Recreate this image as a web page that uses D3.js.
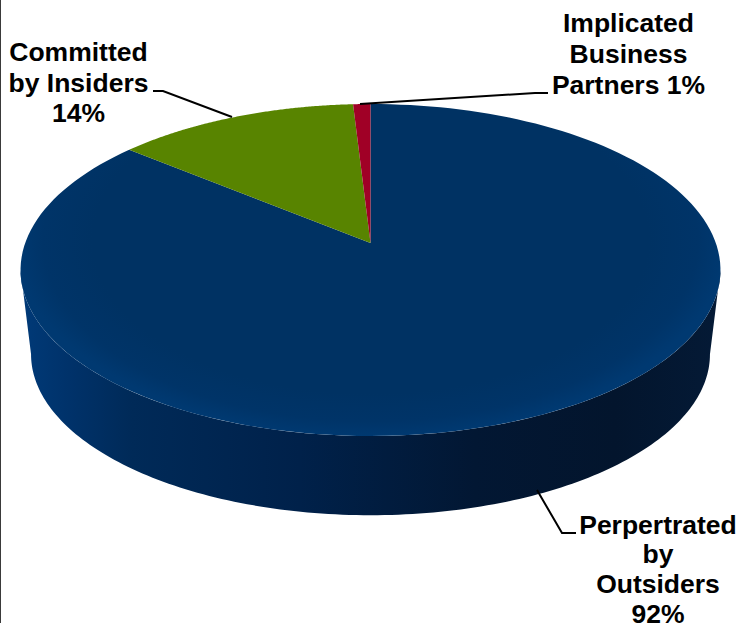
<!DOCTYPE html>
<html><head><meta charset="utf-8">
<script src="https://cdn.jsdelivr.net/npm/d3@7"></script>
<style>html,body{margin:0;padding:0;background:#fff}svg{display:block}text{font-family:"Liberation Sans",Arial,sans-serif;font-weight:700;font-size:26.5px;fill:#000;text-anchor:middle}</style>
</head><body><svg id="c" width="739" height="623"></svg>
<script>
const categories = ["Perpertrated by Outsiders", "Committed by Insiders", "Implicated Business Partners"];
const values = [92, 14, 1];
const sliceColors = ["url(#blueTop)", "#588400", "#a00026"];
const labelLines = [["Perpertrated","by","Outsiders","92%"],["Committed","by Insiders","14%"],["Implicated","Business","Partners 1%"]];
const labelX = [658, 78.5, 628.5];
const labelY = [[534,563,593,623],[61,92,122],[32,63,94]];
const leaders = [[[537,490],[562,533],[576,533]],[[232,117],[163,91],[153,91]],[[360,104],[535,93],[548,93]]];
const sideStops = [[0,"#003a78"],[0.07,"#00326a"],[0.16,"#002a58"],[0.4,"#00214a"],[0.65,"#021733"],[0.85,"#03152d"],[1,"#041a36"]];
const topStops = [[0,"#003263"],[0.78,"#003263"],[0.92,"#003468"],[1,"#003971"]];

const svg = d3.select("#c");
const defs = svg.append("defs");
const grad = defs.append("linearGradient").attr("id","side").attr("gradientUnits","userSpaceOnUse").attr("x1",20).attr("x2",720).attr("y1",0).attr("y2",0);
sideStops.forEach(s=>grad.append("stop").attr("offset",s[0]).attr("stop-color",s[1]));
const tg = defs.append("radialGradient").attr("id","blueTop").attr("gradientUnits","userSpaceOnUse")
  .attr("cx",0).attr("cy",0).attr("r",1).attr("gradientTransform","translate(370.5 240) scale(356 197)");
topStops.forEach(s=>tg.append("stop").attr("offset",s[0]).attr("stop-color",s[1]));

// perspective projection of the pie's unit circle
const k=0.1627, R=345.3, A=161.6, cx=370.5, cy=243;
function project(theta, scale, y0){
  const u=Math.sin(theta), v=Math.cos(theta), w=1+k*v;
  return [cx+scale*R*u/w, y0-scale*A*v/w];
}
const sweep=(a0,a1,s,y0)=>d3.range(0,161).map(i=>project(a0+(a1-a0)*i/160,s,y0));
const line=d3.line();
const arcs=d3.pie().sort(null).value(d=>d)(values);
const bottomS=0.97, bottomY=328;
const silhouette=Math.acos(-k); // angle of the ellipse's widest point

// frame rule at the left edge
svg.append("rect").attr("x",0).attr("y",0).attr("width",1).attr("height",623).attr("fill","#3a3a3a");

// side wall
const wallTop=sweep(silhouette,2*Math.PI-silhouette,1,cy);
const wallBot=sweep(2*Math.PI-silhouette,silhouette,bottomS,bottomY);
svg.append("path").attr("d",line(wallTop.concat(wallBot))+"Z").attr("fill","url(#side)");

// top surface
arcs.forEach((a,i)=>{
  const pts=[[cx,cy]].concat(sweep(a.startAngle,a.endAngle,1,cy));
  svg.append("path").attr("d",line(pts)+"Z").attr("fill",sliceColors[i]);
});

// leader lines
leaders.forEach(l=>svg.append("path").attr("d",line(l)).attr("fill","none").attr("stroke","#000").attr("stroke-width",2));

// labels
labelLines.forEach((ls,i)=>{
  const t=svg.append("text");
  ls.forEach((s,j)=>t.append("tspan").attr("x",labelX[i]).attr("y",labelY[i][j]).text(s));
});
</script></body></html>
